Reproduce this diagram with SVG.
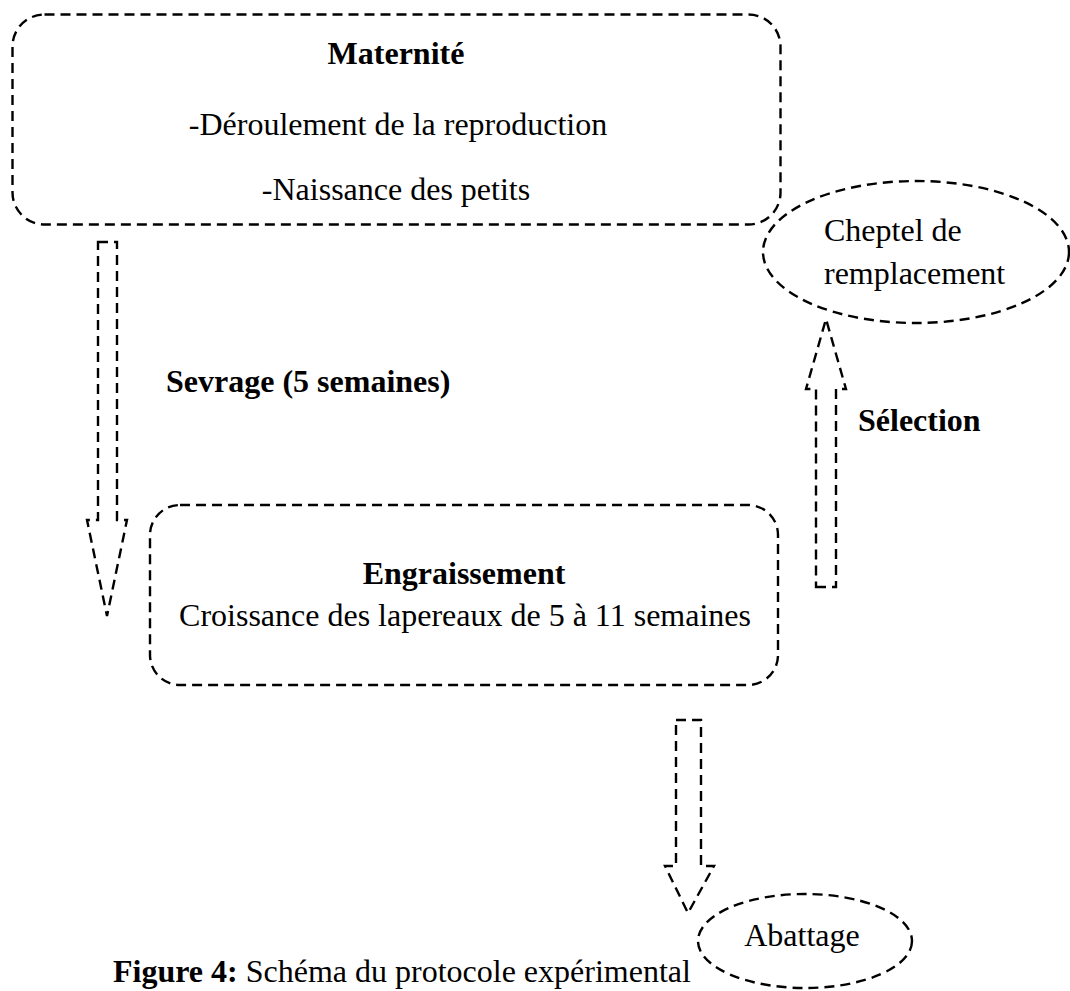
<svg xmlns="http://www.w3.org/2000/svg" width="1070" height="991" viewBox="0 0 1070 991">
<style>
.s{fill:none;stroke:#000;stroke-width:2.4;stroke-dasharray:10 6}
text{font-family:"Liberation Serif","Times New Roman",serif;font-size:32px;fill:#000}
.b{font-weight:bold}
.c{text-anchor:middle}
</style>
<rect x="0" y="0" width="1070" height="991" fill="#fff"/>
<g id="maternite">
<rect class="s" x="12.5" y="14.5" width="768" height="210" rx="32" ry="32"/>
<text class="b c" x="396" y="64">Maternité</text>
<text class="c" x="398" y="135">-Déroulement de la reproduction</text>
<text class="c" x="396" y="200">-Naissance des petits</text>
</g>
<g id="cheptel">
<ellipse class="s" cx="916" cy="252" rx="153" ry="71"/>
<text x="824" y="241">Cheptel de</text>
<text x="824" y="284">remplacement</text>
</g>
<g id="engraissement">
<rect class="s" x="150" y="505" width="628" height="180" rx="30" ry="30"/>
<text class="b c" x="464" y="584">Engraissement</text>
<text class="c" x="465" y="626">Croissance des lapereaux de 5 à 11 semaines</text>
</g>
<g id="abattage">
<ellipse class="s" cx="805" cy="941" rx="107" ry="47"/>
<text class="c" x="802" y="946">Abattage</text>
</g>
<g id="connectors">
<path class="s" d="M98,242 H117 V520 H127 L107,616 L87,520 H98 Z"/>
<path class="s" d="M816,587 H836 V389 H846 L826,319 L806,389 H816 Z"/>
<path class="s" d="M676,720 H701 V866 H714 L688,913 L665,866 H676 Z"/>
</g>
<g id="labels">
<text class="b" x="166" y="392">Sevrage (5 semaines)</text>
<text class="b" x="858" y="431">Sélection</text>
</g>
<g id="caption">
<text x="113" y="982"><tspan class="b">Figure 4:</tspan> Schéma du protocole expérimental</text>
</g>
</svg>
